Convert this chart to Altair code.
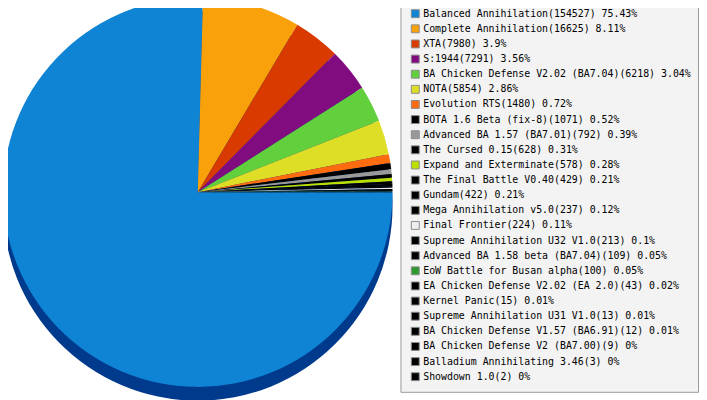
import math
import altair as alt
import pandas as pd

names = ["Balanced Annihilation", "Complete Annihilation", "XTA", "S:1944",
         "BA Chicken Defense V2.02 (BA7.04)", "NOTA", "Evolution RTS",
         "BOTA 1.6 Beta (fix-8)", "Advanced BA 1.57 (BA7.01)", "The Cursed 0.15",
         "Expand and Exterminate", "The Final Battle V0.40", "Gundam",
         "Mega Annihilation v5.0", "Final Frontier", "Supreme Annihilation U32 V1.0",
         "Advanced BA 1.58 beta (BA7.04)", "EoW Battle for Busan alpha",
         "EA Chicken Defense V2.02 (EA 2.0)", "Kernel Panic",
         "Supreme Annihilation U31 V1.0", "BA Chicken Defense V1.57 (BA6.91)",
         "BA Chicken Defense V2 (BA7.00)", "Balladium Annihilating 3.46", "Showdown 1.0"]
counts = [154527, 16625, 7980, 7291, 6218, 5854, 1480, 1071, 792, 628, 578, 429, 422,
          237, 224, 213, 109, 100, 43, 15, 13, 12, 9, 3, 2]
pcts = ["75.43", "8.11", "3.9", "3.56", "3.04", "2.86", "0.72", "0.52", "0.39", "0.31",
        "0.28", "0.21", "0.21", "0.12", "0.11", "0.1", "0.05", "0.05", "0.02", "0.01",
        "0.01", "0.01", "0", "0", "0"]
colors = ["#0f84d4", "#f9a10a", "#d93a00", "#800c80", "#62d03c", "#dfde27", "#ff6b0f",
          "#000000", "#999999", "#000000", "#bbe000", "#000000", "#000000", "#000000",
          "#eeeeee", "#000000", "#000000", "#2e9a2e", "#000000", "#000000", "#000000",
          "#000000", "#000000", "#000000", "#000000"]

labels = [f"{n}({c}) {p}%" for n, c, p in zip(names, counts, pcts)]
df = pd.DataFrame({"label": labels, "count": counts, "idx": list(range(len(names)))})

CX, CY, R = 192, 184, 197
theta_scale = alt.Scale(range=[math.pi / 2, math.pi / 2 + 2 * math.pi])

base = alt.Chart(df)

depth = base.mark_arc(radius=R, color="#003a8c").encode(
    theta=alt.Theta("count:Q", stack=True, scale=theta_scale),
    order=alt.Order("idx:Q"),
    x=alt.value(CX), y=alt.value(CY + 14),
)

pie = base.mark_arc(radius=R, strokeWidth=0).encode(
    theta=alt.Theta("count:Q", stack=True, scale=theta_scale),
    order=alt.Order("idx:Q"),
    x=alt.value(CX), y=alt.value(CY),
    color=alt.Color("label:N", sort=labels,
                    scale=alt.Scale(domain=labels, range=colors),
                    legend=alt.Legend(title=None, orient="none", legendX=407, legendY=-1.5,
                                      symbolType="square", symbolSize=64,
                                      symbolStrokeWidth=1, symbolStrokeColor="#8c8c8c",
                                      symbolOpacity=1,
                                      labelFont="DejaVu Sans Mono", labelFontSize=10,
                                      labelColor="#000000", labelLimit=400,
                                      rowPadding=3.3, padding=0, labelOffset=3)),
)

box = alt.Chart(alt.Data(values=[{"a": 1}])).mark_rect(
    fill="#f3f3f3", stroke="#9a9a9a", strokeWidth=1
).encode(x=alt.value(397.5), x2=alt.value(698.5), y=alt.value(-8), y2=alt.value(386.5))

chart = alt.layer(box, depth, pie).properties(
    width=699, height=392,
    autosize=alt.AutoSizeParams(type="none"),
    padding=0,
).configure_view(stroke=None).resolve_scale(theta="shared")

chart.save("out.html", embed_options={"renderer": "svg", "actions": False})
